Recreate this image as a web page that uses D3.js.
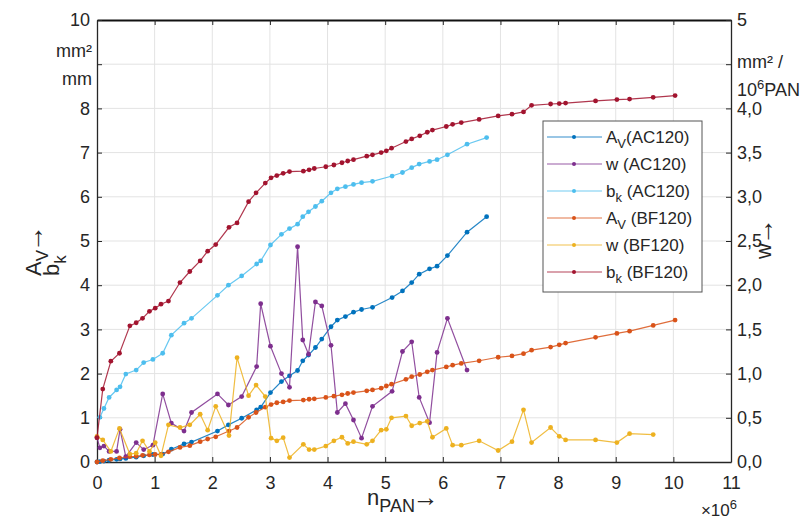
<!DOCTYPE html>
<html>
<head>
<meta charset="utf-8">
<script src="https://cdn.jsdelivr.net/npm/d3@7"></script>
<style>
    body { margin: 0; background: #fff; }
    svg text { font-family: "Liberation Sans", Arial, sans-serif; fill: #262626; }
</style>
</head>
<body>
<div class="svg-container"></div>
<script>
// x values (in 10^6 PAN) per test
const xAC = [0, 0.05, 0.12, 0.21, 0.34, 0.40, 0.50, 0.68, 0.81, 0.97, 1.14, 1.29, 1.51, 1.64, 2.09, 2.28, 2.51, 2.77, 2.84,
    3.01, 3.20, 3.34, 3.48, 3.57, 3.67, 3.79, 3.90, 4.06, 4.17, 4.31, 4.45, 4.59, 4.78, 5.12, 5.30, 5.46, 5.59, 5.77, 5.90, 6.08, 6.42, 6.76];
const xBF = [0, 0.10, 0.24, 0.39, 0.57, 0.68, 0.79, 0.91, 1.01, 1.11, 1.24, 1.44, 1.61, 1.79, 1.92, 2.06, 2.29, 2.43, 2.63, 2.76,
    2.92, 3.02, 3.12, 3.23, 3.34, 3.58, 3.68, 3.77, 3.97, 4.11, 4.25, 4.35, 4.45, 4.68, 4.78, 4.93, 5.02, 5.11, 5.36, 5.46,
    5.60, 5.73, 5.82, 6.06, 6.17, 6.32, 6.63, 6.96, 7.20, 7.40, 7.54, 7.87, 8.02, 8.13, 8.65, 9.02, 9.24, 9.65, 10.03];

// AC120
const avAC = [0.00, 0.01, 0.02, 0.04, 0.06, 0.07, 0.08, 0.11, 0.14, 0.17, 0.18, 0.29, 0.41, 0.45, 0.70, 0.84, 0.99, 1.18, 1.24,
    1.57, 1.82, 1.95, 2.07, 2.29, 2.42, 2.59, 2.78, 3.06, 3.21, 3.29, 3.39, 3.45, 3.50, 3.72, 3.87, 4.06, 4.25, 4.37, 4.43, 4.67, 5.20, 5.55];
const wAC = [0.275, 0.16, 0.18, 0.12, 0.12, 0.37, 0.06, 0.22, 0.14, 0.19, 0.77, 0.44, 0.35, 0.56, 0.77, 0.645, 0.74, 1.08, 1.79,
    1.31, 1.00, 0.845, 2.435, 1.38, 1.22, 1.81, 1.765, 1.32, 0.56, 0.66, 0.475, 0.27, 0.63, 0.80, 1.25, 1.36, 0.73, 0.445, 1.24, 1.625, 1.04, null];
const bkAC = [null, 1.01, 1.21, 1.46, 1.63, 1.70, 1.99, 2.08, 2.25, 2.32, 2.46, 2.87, 3.14, 3.25, 3.77, 4.00, 4.21, 4.48, 4.55,
    4.91, 5.15, 5.28, 5.38, 5.55, 5.66, 5.78, 5.90, 6.09, 6.18, 6.23, 6.28, 6.32, 6.35, 6.47, 6.55, 6.66, 6.74, 6.80, 6.84, 6.95, 7.19, 7.34];

// BF120
const avBF = [0.00, 0.03, 0.06, 0.09, 0.12, 0.13, 0.15, 0.16, 0.17, 0.17, 0.23, 0.33, 0.37, 0.46, 0.52, 0.57, 0.70, 0.78, 1.01, 1.12,
    1.24, 1.30, 1.34, 1.36, 1.39, 1.40, 1.42, 1.43, 1.46, 1.49, 1.52, 1.55, 1.57, 1.61, 1.63, 1.67, 1.72, 1.76, 1.87, 1.93,
    1.98, 2.04, 2.08, 2.15, 2.19, 2.23, 2.29, 2.37, 2.40, 2.45, 2.53, 2.60, 2.65, 2.69, 2.82, 2.91, 2.96, 3.09, 3.21];
const wBF = [0.29, 0.25, 0.12, 0.38, 0.09, 0.10, 0.24, 0.12, 0.22, 0.07, 0.42, 0.39, 0.42, 0.54, 0.36, 0.63, 0.30, 1.18, 0.75, 0.87,
    0.74, 0.27, 0.24, 0.275, 0.05, 0.20, 0.14, 0.14, 0.18, 0.24, 0.28, 0.21, 0.23, 0.20, 0.24, 0.36, 0.37, 0.50, 0.52, 0.41,
    0.44, 0.46, 0.28, 0.38, 0.19, 0.19, 0.24, 0.13, 0.23, 0.59, 0.22, 0.39, 0.29, 0.25, 0.25, 0.22, 0.32, 0.31, null];
const bkBF = [0.55, 1.65, 2.28, 2.46, 3.08, 3.15, 3.25, 3.41, 3.48, 3.57, 3.64, 4.06, 4.31, 4.55, 4.77, 4.92, 5.31, 5.41, 5.89, 6.09,
    6.31, 6.43, 6.48, 6.53, 6.57, 6.58, 6.61, 6.64, 6.68, 6.72, 6.77, 6.81, 6.84, 6.92, 6.95, 7.00, 7.04, 7.10, 7.25, 7.31,
    7.38, 7.46, 7.51, 7.59, 7.64, 7.68, 7.75, 7.83, 7.87, 7.92, 8.07, 8.10, 8.11, 8.12, 8.17, 8.20, 8.21, 8.25, 8.29];

const xTicks = d3.range(0, 12);
const yLeftTicks = d3.range(0, 11);
const yRightTicks = d3.range(0, 5.01, 0.5);

var viewBox_width = 809,
    viewBox_height = 520,
    margin = {top: 20, right: 78, bottom: 58, left: 97},
    width = viewBox_width - margin.left - margin.right,
    height = viewBox_height - margin.top - margin.bottom;

var svg = d3.select('.svg-container')
    .append('svg')
    .attr('width', viewBox_width)
    .attr('height', viewBox_height);

var xScale = d3.scaleLinear().domain([0, 11]).range([0, width]),
    yLeft = d3.scaleLinear().domain([0, 10]).range([height, 0]),
    yRight = d3.scaleLinear().domain([0, 5]).range([height, 0]);

var g = svg.append('g').attr('transform', `translate(${margin.left},${margin.top})`);

// grid
g.append('g').selectAll('line').data(xTicks.slice(1, -1)).enter().append('line')
    .attr('x1', d => xScale(d)).attr('x2', d => xScale(d))
    .attr('y1', 0).attr('y2', height)
    .attr('stroke', '#e3e3e3').attr('stroke-width', 1);
g.append('g').selectAll('line').data(yLeftTicks.slice(1, -1)).enter().append('line')
    .attr('x1', 0).attr('x2', width)
    .attr('y1', d => yLeft(d)).attr('y2', d => yLeft(d))
    .attr('stroke', '#e3e3e3').attr('stroke-width', 1);

// axes
const fmtRight = d => d === 4.5 ? '' : (d === 5 ? '5' : d.toFixed(1).replace('.', ','));
const fmtLeft = d => d === 9 ? '' : String(d);

var xAxis = g.append('g').attr('transform', `translate(0,${height})`)
    .call(d3.axisBottom(xScale).tickValues(xTicks).tickSize(-5).tickPadding(14).tickSizeOuter(0));
var topAxis = g.append('g')
    .call(d3.axisTop(xScale).tickValues(xTicks).tickSize(-5).tickFormat('').tickSizeOuter(0));
var leftAxis = g.append('g')
    .call(d3.axisLeft(yLeft).tickValues(yLeftTicks).tickSize(-5).tickPadding(7).tickFormat(fmtLeft).tickSizeOuter(0));
var rightAxis = g.append('g').attr('transform', `translate(${width},0)`)
    .call(d3.axisRight(yRight).tickValues(yRightTicks).tickSize(-5).tickPadding(6).tickFormat(fmtRight).tickSizeOuter(0));

g.selectAll('.domain').attr('stroke', '#262626').attr('stroke-width', 1.3);
topAxis.select('.domain').attr('stroke', '#111').attr('stroke-width', 2);
g.selectAll('.tick line').attr('stroke', '#262626');
g.selectAll('.tick text').style('font-size', '18px').attr('fill', '#262626');

// text with sub/superscript parts; an 'arrow' part is drawn larger (longer arrow)
function richText(sel, parts, size, subSize, arrowSize) {
    let shift = 0;
    parts.forEach(function (p) {
        let target = 0;
        if (p[1] === 'sub') target = size * 0.3;
        if (p[1] === 'sup') target = -size * 0.4;
        if (p[1] === 'arrow') target = (arrowSize - size) * 0.3;
        const t = sel.append('tspan').attr('dy', target - shift).text(p[0]);
        if (p[1] === 'sub' || p[1] === 'sup') t.style('font-size', subSize + 'px');
        if (p[1] === 'arrow') t.style('font-size', arrowSize + 'px').attr('dx', -arrowSize * 0.08);
        shift = target;
    });
}

// unit labels
svg.append('text').attr('x', 92).attr('y', 57).attr('text-anchor', 'end').style('font-size', '18px').text('mm²');
svg.append('text').attr('x', 92).attr('y', 85).attr('text-anchor', 'end').style('font-size', '18px').text('mm');
svg.append('text').attr('x', 737).attr('y', 68).style('font-size', '18px').text('mm² /');
var u2 = svg.append('text').attr('x', 737).attr('y', 96).style('font-size', '18px');
richText(u2, [['10', ''], ['6', 'sup'], ['PAN', '']], 18, 13);

// axis titles
var yl1 = svg.append('text').attr('transform', 'translate(41,276) rotate(-90)').style('font-size', '22px');
richText(yl1, [['A', ''], ['V', 'sub'], ['→', 'arrow']], 22, 17, 27);
var yl2 = svg.append('text').attr('transform', 'translate(59,276) rotate(-90)').style('font-size', '22px');
richText(yl2, [['b', ''], ['k', 'sub']], 22, 17);
var yr = svg.append('text').attr('transform', 'translate(771,259) rotate(-90)').style('font-size', '22px');
richText(yr, [['w', ''], ['→', 'arrow']], 22, 17, 27);
var xl = svg.append('text').attr('x', 367).attr('y', 505).style('font-size', '22px');
richText(xl, [['n', ''], ['PAN', 'sub'], ['→', 'arrow']], 22, 18, 26);
var xm = svg.append('text').attr('x', 737).attr('y', 516).attr('text-anchor', 'end').style('font-size', '17px');
richText(xm, [['×10', ''], ['6', 'sup']], 17, 13);

// series
const series = [
    {parts: [['A', ''], ['V', 'sub'], ['(AC120)', '']], xs: xAC, ys: avAC, scale: yLeft, color: '#0072BD'},
    {parts: [['w (AC120)', '']], xs: xAC, ys: wAC, scale: yRight, color: '#7E2F8E'},
    {parts: [['b', ''], ['k', 'sub'], [' (AC120)', '']], xs: xAC, ys: bkAC, scale: yLeft, color: '#4DBEEE'},
    {parts: [['A', ''], ['V', 'sub'], [' (BF120)', '']], xs: xBF, ys: avBF, scale: yLeft, color: '#D95319'},
    {parts: [['w (BF120)', '']], xs: xBF, ys: wBF, scale: yRight, color: '#EDB120'},
    {parts: [['b', ''], ['k', 'sub'], [' (BF120)', '']], xs: xBF, ys: bkBF, scale: yLeft, color: '#A2142F'}
];

series.forEach(function (s) {
    const pts = s.xs.map((x, i) => [x, s.ys[i]]);
    const line = d3.line()
        .defined(d => d[1] != null)
        .x(d => xScale(d[0]))
        .y(d => s.scale(d[1]));
    g.append('path').datum(pts)
        .attr('d', line)
        .attr('fill', 'none')
        .attr('stroke', s.color)
        .attr('stroke-opacity', 0.85)
        .attr('stroke-width', 1.2);
    g.append('g').selectAll('circle')
        .data(pts.filter(d => d[1] != null)).enter().append('circle')
        .attr('cx', d => xScale(d[0]))
        .attr('cy', d => s.scale(d[1]))
        .attr('r', 2.4)
        .attr('fill', s.color);
});

// legend
var lg = svg.append('g').attr('transform', 'translate(543,121)');
lg.append('rect').attr('width', 159).attr('height', 171)
    .attr('fill', '#fff').attr('stroke', '#555').attr('stroke-width', 1);
series.forEach(function (s, i) {
    const yy = 16 + i * 27;
    lg.append('line').attr('x1', 4).attr('x2', 59).attr('y1', yy).attr('y2', yy)
        .attr('stroke', s.color).attr('stroke-opacity', 0.8).attr('stroke-width', 1.2);
    lg.append('circle').attr('cx', 31).attr('cy', yy).attr('r', 2).attr('fill', s.color);
    var t = lg.append('text').attr('x', 63).attr('y', yy + 6).style('font-size', '17px');
    richText(t, s.parts, 17, 13);
});
</script>
</body>
</html>
